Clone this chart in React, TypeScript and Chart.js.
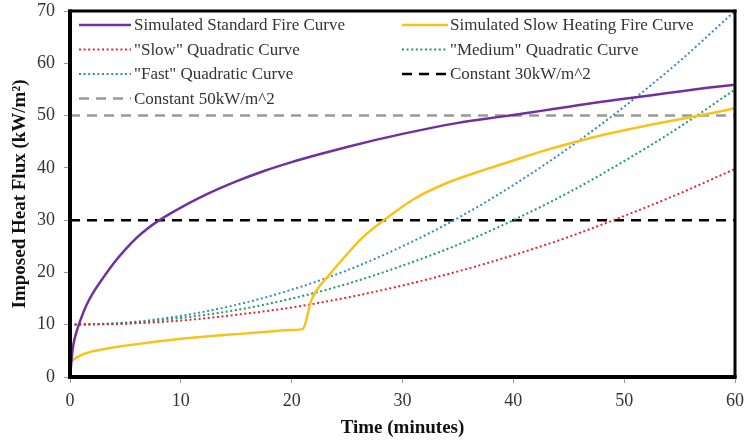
import React, { useEffect, useRef } from "react";
import { Chart, registerables } from "chart.js";

Chart.register(...registerables);

// ---- Data ----
const stdMinutes = [0, 0.25, 0.5, 1, 1.5, 2, 3, 4, 5, 6, 7, 8, 9, 10, 12.5, 15, 17.5, 20, 22.5, 25, 27.5, 30, 32.5, 35, 37.5, 40, 42.5, 45, 47.5, 50, 52.5, 55, 57.5, 60];
const standardFire = [0, 5.5, 8, 11.2, 13.8, 15.8, 19, 21.9, 24.4, 26.6, 28.4, 29.9, 31.2, 32.4, 35.1, 37.4, 39.4, 41.1, 42.6, 44, 45.3, 46.5, 47.6, 48.6, 49.4, 50.1, 50.9, 51.7, 52.5, 53.2, 53.9, 54.6, 55.3, 55.9];

const slowHeatMinutes = [0, 0.5, 1, 1.5, 2, 3, 4, 5, 7.5, 10, 12.5, 15, 17.5, 20, 21, 21.8, 23.5, 25, 26.4, 28.4, 31, 34, 37.5, 40, 42.5, 45, 47.5, 50, 52.5, 55, 57.5, 60];
const slowHeatingFire = [2.8, 3.6, 4.2, 4.6, 4.9, 5.3, 5.7, 6.0, 6.7, 7.3, 7.8, 8.2, 8.6, 9.0, 9.2, 14.8, 19.8, 23.5, 26.7, 30.1, 34, 37.1, 39.7, 41.4, 43.1, 44.6, 46.0, 47.2, 48.3, 49.3, 50.3, 51.4];

const quadMinutes = [0, 5, 10, 15, 20, 25, 30, 35, 40, 45, 50, 55, 60];
const slowQuadratic = [10, 10.2, 10.8, 11.9, 13.3, 15.2, 17.5, 20.2, 23.3, 26.8, 30.8, 35.1, 39.8];
const mediumQuadratic = [10, 10.3, 11.3, 12.8, 15, 17.8, 21.3, 25.3, 30, 35.3, 41.3, 47.8, 55];
const fastQuadratic = [10, 10.4, 11.7, 13.8, 16.7, 20.4, 25, 30.4, 36.7, 43.8, 51.7, 60.4, 70];

const constMinutes = [0, 60];
const constant30 = [30, 30];
const constant50 = [50, 50];

const xTicks = [0, 10, 20, 30, 40, 50, 60];
const yTicks = [0, 10, 20, 30, 40, 50, 60, 70];

const seriesLabels = [
  "Simulated Standard Fire Curve",
  "Simulated Slow Heating Fire Curve",
  "\"Slow\" Quadratic Curve",
  "\"Medium\" Quadratic Curve",
  "\"Fast\" Quadratic Curve",
  "Constant 30kW/m^2",
  "Constant 50kW/m^2",
];

const toXY = (xs: number[], ys: number[]) => xs.map((x, i) => ({ x, y: ys[i] }));

const SERIF = "'Liberation Serif', 'Times New Roman', serif";

const legendPlugin = {
  id: "insideLegend",
  afterDraw(chart: any) {
    const ctx = chart.ctx;
    const rows = [25, 49.5, 74, 98.5];
    const cols = [
      { x0: 79, x1: 131, tx: 134 },
      { x0: 402, x1: 448, tx: 450 },
    ];
    chart.data.datasets.forEach((ds: any, i: number) => {
      const c = cols[i % 2];
      const y = rows[Math.floor(i / 2)];
      ctx.save();
      ctx.beginPath();
      ctx.setLineDash(ds.borderDash || []);
      ctx.lineWidth = ds.borderWidth;
      ctx.strokeStyle = ds.borderColor;
      ctx.moveTo(c.x0, y);
      ctx.lineTo(c.x1, y);
      ctx.stroke();
      ctx.setLineDash([]);
      ctx.font = `17px ${SERIF}`;
      ctx.fillStyle = "#333333";
      ctx.textBaseline = "middle";
      ctx.textAlign = "left";
      ctx.fillText(ds.label, c.tx, y + 1);
      ctx.restore();
    });
  },
};

const framePlugin = {
  id: "plotFrame",
  afterDraw(chart: any) {
    const { ctx, chartArea } = chart;
    const l = chartArea.left;
    const t = chartArea.top;
    const w = chartArea.width;
    const h = chartArea.height;
    ctx.save();
    ctx.fillStyle = "#000000";
    ctx.fillRect(l - 1.5, t - 1.5, w + 3, 3);
    ctx.fillRect(l + w - 1.5, t - 1.5, 3, h + 3);
    ctx.fillRect(l - 2, t - 1.5, 4, h + 3.5);
    ctx.fillRect(l - 2, t + h - 2, w + 3.5, 4);
    ctx.restore();
  },
};

export default function App() {
  const canvasRef = useRef<HTMLCanvasElement | null>(null);

  useEffect(() => {
    if (!canvasRef.current) return;
    const dotted = [2, 2.6];
    const dashed = [10, 7];
    const chart = new Chart(canvasRef.current, {
      type: "line",
      data: {
        datasets: [
          { label: seriesLabels[0], data: toXY(stdMinutes, standardFire), borderColor: "#7030A0", borderWidth: 2.5, cubicInterpolationMode: "monotone" },
          { label: seriesLabels[1], data: toXY(slowHeatMinutes, slowHeatingFire), borderColor: "#F8C21C", borderWidth: 2.5, cubicInterpolationMode: "monotone" },
          { label: seriesLabels[2], data: toXY(quadMinutes, slowQuadratic), borderColor: "#E52530", borderWidth: 2, borderDash: dotted, cubicInterpolationMode: "monotone" },
          { label: seriesLabels[3], data: toXY(quadMinutes, mediumQuadratic), borderColor: "#1E9E5E", borderWidth: 2, borderDash: dotted, cubicInterpolationMode: "monotone" },
          { label: seriesLabels[4], data: toXY(quadMinutes, fastQuadratic), borderColor: "#3B88C4", borderWidth: 2, borderDash: dotted, cubicInterpolationMode: "monotone" },
          { label: seriesLabels[5], data: toXY(constMinutes, constant30), borderColor: "#000000", borderWidth: 2.5, borderDash: dashed },
          { label: seriesLabels[6], data: toXY(constMinutes, constant50), borderColor: "#999999", borderWidth: 2.5, borderDash: dashed },
        ].map((d: any) => ({ ...d, pointRadius: 0, fill: false, backgroundColor: d.borderColor })),
      },
      options: {
        animation: false,
        responsive: false,
        maintainAspectRatio: false,
        layout: { padding: { top: 11, right: 10, left: 0, bottom: 0 } },
        plugins: { legend: { display: false }, tooltip: { enabled: false } },
        scales: {
          x: {
            type: "linear",
            min: 0,
            max: 60,
            afterFit(scale: any) {
              scale.height = 66;
              scale.paddingLeft = 0;
              scale.paddingRight = 0;
            },
            afterBuildTicks(scale: any) { scale.ticks = xTicks.map((v) => ({ value: v })); },
            ticks: { color: "#333333", padding: 8, font: { family: SERIF, size: 18, lineHeight: 1.1 } },
            grid: { display: true, drawOnChartArea: false, drawTicks: true, tickLength: 6, color: "#9a9a9a", lineWidth: 1 },
            border: { display: false },
            title: { display: true, text: "Time (minutes)", color: "#111111", padding: { top: 0, bottom: 4 }, font: { family: SERIF, size: 19, weight: "bold", lineHeight: 1.2 } },
          },
          y: {
            type: "linear",
            min: 0,
            max: 70,
            afterFit(scale: any) {
              scale.width = 70;
              scale.paddingTop = 0;
              scale.paddingBottom = 0;
            },
            afterBuildTicks(scale: any) { scale.ticks = yTicks.map((v) => ({ value: v })); },
            ticks: { color: "#333333", padding: 9, font: { family: SERIF, size: 18, lineHeight: 1.1 } },
            grid: { display: true, drawOnChartArea: false, drawTicks: true, tickLength: 6, color: "#9a9a9a", lineWidth: 1 },
            border: { display: false },
            title: { display: true, text: "Imposed Heat Flux (kW/m\u00B2)", color: "#111111", padding: { top: 9, bottom: 0 }, font: { family: SERIF, size: 19, weight: "bold", lineHeight: 1.2 } },
          },
        },
      },
      plugins: [framePlugin, legendPlugin],
    } as any);
    return () => chart.destroy();
  }, []);

  return (
    <div style={{ position: "absolute", left: 0, top: 0, width: 745, height: 443, background: "#fff" }}>
      <canvas ref={canvasRef} width={745} height={443} style={{ display: "block" }} />
    </div>
  );
}
